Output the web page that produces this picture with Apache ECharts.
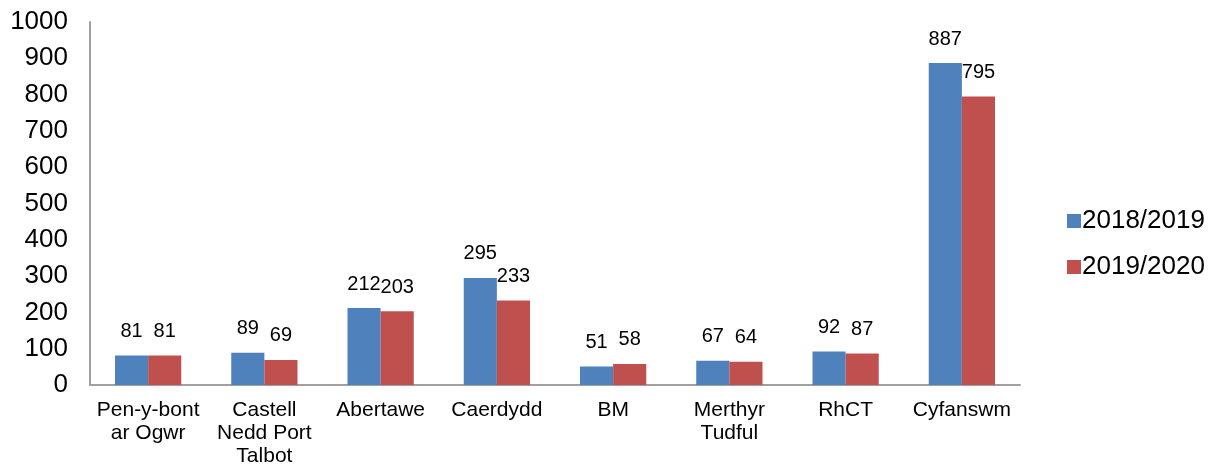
<!DOCTYPE html>
<html>
<head>
<meta charset="utf-8">
<script src="https://cdn.jsdelivr.net/npm/echarts@6/dist/echarts.min.js"></script>
<style>
  html, body { margin: 0; padding: 0; background: #fff; }
  #main { width: 1214px; height: 468px; }
</style>
</head>
<body>
<div id="main"></div>
<script>
var categories = ['Pen-y-bont\nar Ogwr', 'Castell\nNedd Port\nTalbot', 'Abertawe', 'Caerdydd', 'BM', 'Merthyr\nTudful', 'RhCT', 'Cyfanswm'];
var seriesNames = ['2018/2019', '2019/2020'];
var values2018 = [81, 89, 212, 295, 51, 67, 92, 887];
var values2019 = [81, 69, 203, 233, 58, 64, 87, 795];
var yTicks = { min: 0, max: 1000, interval: 100 };

var myChart = echarts.init(document.getElementById('main'));
var fontFam = '"Liberation Sans", Arial, sans-serif';
var barLabel = {
  show: true,
  position: 'top',
  distance: 14,
  color: '#000',
  fontSize: 20,
  fontFamily: fontFam
};
option = {
  animation: false,
  grid: { left: 90, right: 194, top: 22, bottom: 82 },
  legend: {
    orient: 'vertical',
    left: 1062,
    top: 203,
    itemWidth: 14,
    itemHeight: 14,
    itemGap: 20,
    icon: 'rect',
    textStyle: { fontSize: 26, color: '#000', fontFamily: fontFam, padding: [0, 0, 0, -4] },
    data: seriesNames
  },
  xAxis: {
    type: 'category',
    data: categories,
    axisLine: { lineStyle: { color: '#a0a0a0', width: 2 } },
    axisTick: { show: false },
    axisLabel: {
      color: '#000',
      fontSize: 21,
      fontFamily: fontFam,
      lineHeight: 23,
      margin: 14,
      interval: 0
    }
  },
  yAxis: {
    type: 'value',
    min: yTicks.min,
    max: yTicks.max,
    interval: yTicks.interval,
    splitLine: { show: false },
    axisLine: { show: true, lineStyle: { color: '#a0a0a0', width: 2 } },
    axisTick: { show: false },
    axisLabel: {
      color: '#000', fontSize: 26, fontFamily: fontFam, margin: 22,
      formatter: function (v) { return String(v); }
    }
  },
  series: [{
    name: seriesNames[0],
    type: 'bar',
    data: values2018,
    barGap: '0%',
    barCategoryGap: '43%',
    itemStyle: { color: '#4F81BD' },
    label: barLabel
  }, {
    name: seriesNames[1],
    type: 'bar',
    data: values2019,
    barGap: '0%',
    barCategoryGap: '43%',
    itemStyle: { color: '#C0504D' },
    label: barLabel
  }]
};
myChart.setOption(option);
</script>
</body>
</html>
